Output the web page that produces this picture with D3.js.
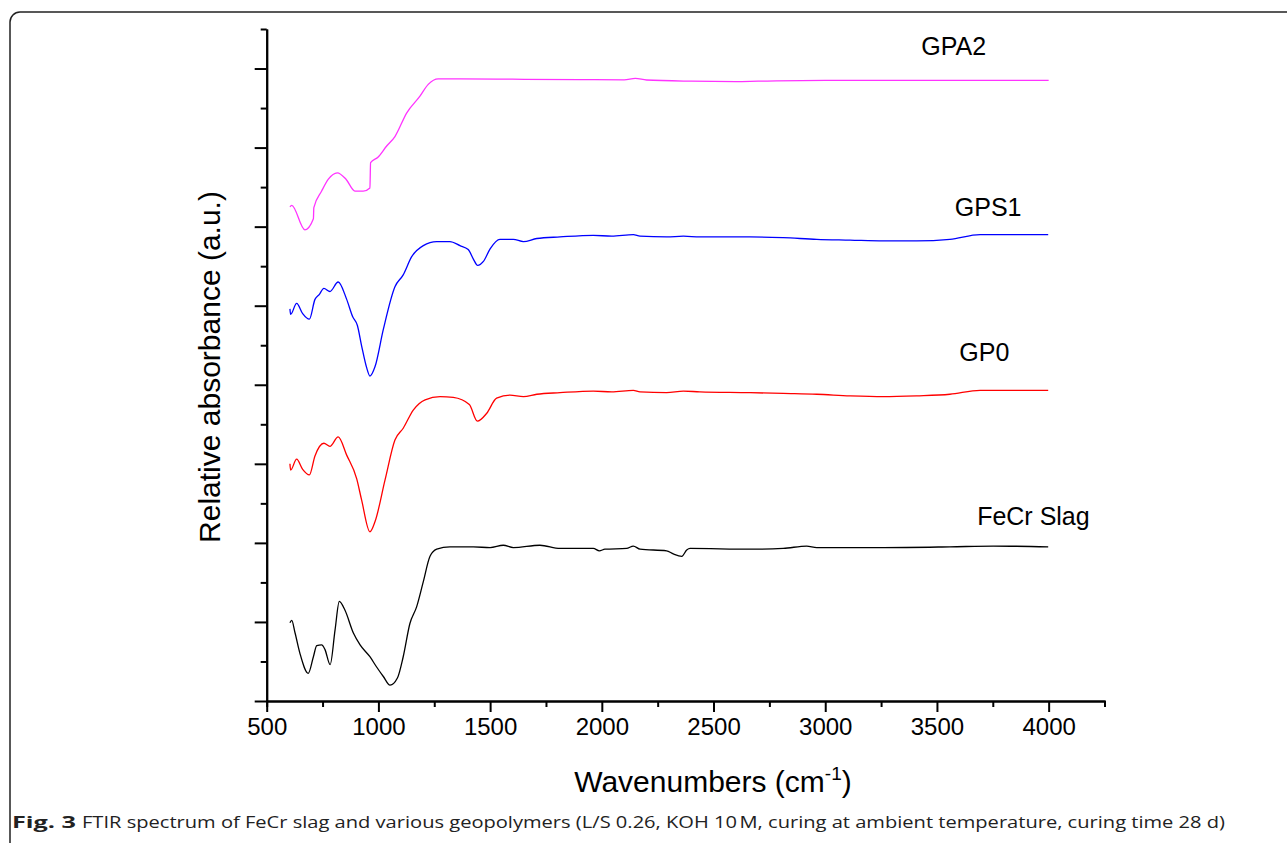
<!DOCTYPE html>
<meta charset="utf-8">
<script src="https://d3js.org/d3.v7.min.js"></script>
<style>
  body { margin: 0; background: #fff; }
  text { font-family: "Liberation Sans", Arial, sans-serif; }
</style>
<div id="chart"></div>
<script>
// FTIR spectra, [wavenumber cm-1, relative absorbance]
const fecrSlag = [
  [604,0.99],[612,1.02],[627,0.86],[649,0.60],[686,0.35],[709,0.56],[724,0.70],[746,0.71],
  [761,0.65],[784,0.46],[806,0.90],[825,1.26],[850,1.15],[888,0.86],[918,0.71],[962,0.56],
  [992,0.43],[1022,0.31],[1052,0.20],[1085,0.29],[1111,0.56],[1141,0.98],[1171,1.19],
  [1201,1.51],[1231,1.83],[1261,1.92],[1320,1.95],[1425,1.95],[1500,1.94],[1559,1.97],
  [1604,1.94],[1723,1.97],[1813,1.93],[1962,1.93],[1989,1.90],[2014,1.92],[2111,1.93],
  [2141,1.96],[2171,1.92],[2290,1.90],[2320,1.86],[2358,1.83],[2380,1.91],[2395,1.93],
  [2663,1.92],[2812,1.93],[2917,1.96],[2962,1.94],[3260,1.94],[3558,1.95],[3752,1.96],[3998,1.95]
];
const gp0 = [
  [604,3.00],[607,2.92],[634,3.06],[661,2.93],[691,2.86],[716,3.10],[756,3.26],[783,3.22],
  [820,3.34],[858,3.11],[903,2.81],[925,2.54],[962,2.14],[985,2.27],[1030,2.80],[1074,3.30],
  [1111,3.45],[1156,3.68],[1209,3.81],[1276,3.85],[1335,3.84],[1407,3.75],[1443,3.54],
  [1485,3.64],[1529,3.83],[1589,3.87],[1649,3.85],[1709,3.88],[1813,3.90],[1962,3.92],
  [2044,3.91],[2141,3.93],[2171,3.91],[2290,3.90],[2365,3.92],[2439,3.91],[2663,3.90],
  [2812,3.89],[2962,3.88],[3111,3.86],[3260,3.85],[3409,3.86],[3558,3.88],[3693,3.93],[3998,3.93]
];
const gps1 = [
  [604,4.96],[607,4.89],[634,5.03],[661,4.90],[691,4.83],[716,5.08],[735,5.14],[756,5.22],
  [783,5.18],[820,5.30],[858,5.08],[885,4.86],[906,4.75],[925,4.49],[948,4.21],[962,4.11],
  [985,4.23],[1022,4.70],[1074,5.24],[1111,5.39],[1149,5.62],[1201,5.76],[1261,5.81],
  [1320,5.81],[1365,5.76],[1402,5.71],[1425,5.59],[1444,5.51],[1470,5.56],[1500,5.72],
  [1544,5.84],[1604,5.84],[1649,5.81],[1709,5.85],[1813,5.87],[1962,5.89],[2044,5.88],
  [2141,5.90],[2171,5.88],[2290,5.87],[2365,5.88],[2439,5.87],[2663,5.87],[2812,5.86],
  [2962,5.84],[3111,5.83],[3260,5.82],[3409,5.82],[3558,5.84],[3693,5.90],[3998,5.90]
];
const gpa2 = [
  [604,6.25],[612,6.27],[671,5.96],[709,6.10],[711,6.24],[746,6.45],[776,6.60],[816,6.68],
  [855,6.60],[895,6.45],[932,6.45],[962,6.49],[965,6.81],[999,6.88],[1037,7.02],[1074,7.14],
  [1127,7.44],[1186,7.65],[1223,7.80],[1268,7.87],[1365,7.87],[1600,7.865],[1900,7.86],
  [2100,7.857],[2150,7.875],[2200,7.855],[2400,7.84],[2600,7.835],[2700,7.84],[3000,7.85],
  [3500,7.85],[4000,7.85]
];

const seriesNames = ["FeCr Slag", "GP0", "GPS1", "GPA2"];
const seriesColors = ["#000000", "#ff0000", "#0000ff", "#ff33ff"];
const labelWn = [3680, 3600, 3580, 3430];
const labelVal = [2.22, 4.3, 6.14, 8.17];

const xMajor = [500, 1000, 1500, 2000, 2500, 3000, 3500, 4000];
const xMinor = [750, 1250, 1750, 2250, 2750, 3250, 3750, 4250];
const yMajor = [0, 1, 2, 3, 4, 5, 6, 7, 8];
const yMinor = [0.5, 1.5, 2.5, 3.5, 4.5, 5.5, 6.5, 7.5, 8.5];

const width = 1287, height = 843;

const svg = d3.select("#chart").append("svg")
    .attr("width", width)
    .attr("height", height);

// rounded frame of the figure panel
svg.append("rect")
    .attr("x", 10).attr("y", 12)
    .attr("width", 1290).attr("height", 860)
    .attr("rx", 10)
    .attr("fill", "none")
    .attr("stroke", "#222")
    .attr("stroke-width", 1.5);

const x = d3.scaleLinear().domain([500, 4250]).range([266.7, 1104.5]);
const y = d3.scaleLinear().domain([0, 8.5]).range([701, 29]);

// x axis
const gx = svg.append("g").attr("transform", "translate(0,701)");
gx.call(d3.axisBottom(x).tickValues(xMajor).tickSize(11).tickSizeOuter(0).tickPadding(6)
    .tickFormat(d3.format("d")));
gx.append("g").call(d3.axisBottom(x).tickValues(xMinor).tickSize(6).tickFormat(""));
gx.selectAll("path.domain").attr("stroke-width", 2);
gx.selectAll(".tick line").attr("stroke-width", 2);
gx.selectAll(".tick text").attr("font-size", 24).attr("fill", "#000")
    .style("font-family", '"Liberation Sans", Arial, sans-serif');

// y axis, no labels
const gy = svg.append("g").attr("transform", "translate(266.7,0)");
gy.call(d3.axisLeft(y).tickValues(yMajor).tickSize(12).tickSizeOuter(0).tickFormat(""));
gy.append("g").call(d3.axisLeft(y).tickValues(yMinor).tickSize(6).tickSizeOuter(0).tickFormat(""));
gy.selectAll("path.domain").attr("stroke-width", 2);
gy.selectAll(".tick line").attr("stroke-width", 2);

// spectra
const line = d3.line()
    .x(d => x(d[0]))
    .y(d => y(d[1]))
    .curve(d3.curveMonotoneX);

[fecrSlag, gp0, gps1, gpa2].forEach((s, i) => {
  svg.append("path")
      .datum(s)
      .attr("d", line)
      .attr("fill", "none")
      .attr("stroke", seriesColors[i])
      .attr("stroke-width", 1.3);
});

// series labels
svg.selectAll("text.lbl")
  .data(seriesNames)
  .join("text")
    .attr("class", "lbl")
    .attr("x", (d, i) => x(labelWn[i]))
    .attr("y", (d, i) => y(labelVal[i]))
    .attr("font-size", 25)
    .text(d => d);

// axis titles
const xt = svg.append("text")
    .attr("x", 713).attr("y", 792)
    .attr("text-anchor", "middle")
    .attr("font-size", 30);
xt.append("tspan").text("Wavenumbers (cm");
xt.append("tspan").attr("font-size", 19).attr("dy", -12).text("-1");
xt.append("tspan").attr("dy", 12).text(")");

svg.append("text")
    .attr("transform", "translate(220,367) rotate(-90)")
    .attr("text-anchor", "middle")
    .attr("font-size", 30)
    .text("Relative absorbance (a.u.)");

// caption
svg.append("text")
    .attr("x", 12).attr("y", 828)
    .attr("font-size", 16)
    .attr("font-weight", "bold")
    .style("font-family", '"Open Sans", sans-serif')
    .attr("fill", "#222")
    .attr("textLength", 64).attr("lengthAdjust", "spacingAndGlyphs")
    .text("Fig. 3");
svg.append("text")
    .attr("x", 82).attr("y", 828)
    .attr("font-size", 16)
    .style("font-family", '"Open Sans", sans-serif')
    .attr("fill", "#222")
    .attr("textLength", 1143).attr("lengthAdjust", "spacingAndGlyphs")
    .text("FTIR spectrum of FeCr slag and various geopolymers (L/S 0.26, KOH 10\u202FM, curing at ambient temperature, curing time 28 d)");
</script>
